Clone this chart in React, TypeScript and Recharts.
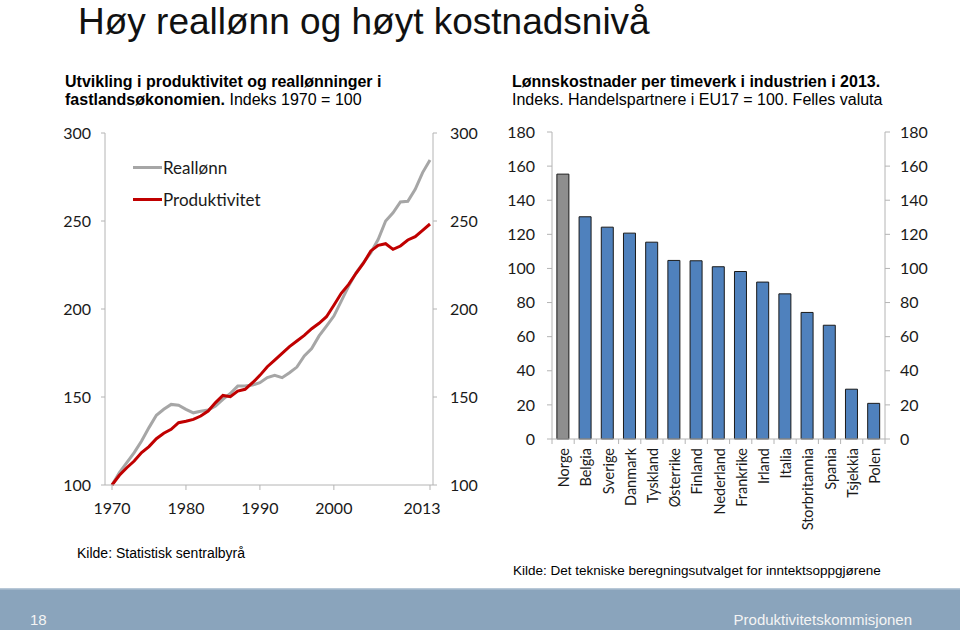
import { Bar, Cell, ComposedChart, Legend, Line, LineChart, XAxis, YAxis } from 'recharts';

const years = [
  1970, 1971, 1972, 1973, 1974, 1975, 1976, 1977, 1978, 1979, 1980, 1981, 1982, 1983, 1984,
  1985, 1986, 1987, 1988, 1989, 1990, 1991, 1992, 1993, 1994, 1995, 1996, 1997, 1998, 1999,
  2000, 2001, 2002, 2003, 2004, 2005, 2006, 2007, 2008, 2009, 2010, 2011, 2012, 2013,
];
const reallonn = [
  100, 107, 112.7, 118.4, 125, 132.6, 139.6, 143, 145.8, 145.3, 143, 141, 141.9, 142.6, 144.9,
  148.7, 152, 156.2, 156.2, 156.8, 158.1, 161, 162.3, 161, 163.8, 167, 173.3, 177.5, 184.7, 190.3,
  196, 204.5, 213, 220.6, 226.3, 232, 239.6, 250, 254.7, 260.8, 261.2, 268, 277.5, 284.7,
];
const produktivitet = [
  100, 105.5, 109.8, 113.6, 118.4, 121.8, 126.3, 129.4, 131.6, 135.4, 136.2, 137.3, 139.2, 142, 146.8,
  150.9, 150.2, 153.4, 154.4, 158.1, 162.3, 167.2, 171, 174.8, 178.6, 181.8, 185, 188.8, 191.9, 195.6,
  202.1, 208.9, 214, 220.3, 226, 233, 236.2, 237.1, 233.9, 235.8, 239.2, 241.1, 244.7, 248.3,
];
const yearTicks = [1970, 1980, 1990, 2000, 2013];
const indexTicks = [100, 150, 200, 250, 300];

const countries = [
  'Norge', 'Belgia', 'Sverige', 'Danmark', 'Tyskland', 'Østerrike', 'Finland', 'Nederland',
  'Frankrike', 'Irland', 'Italia', 'Storbritannia', 'Spania', 'Tsjekkia', 'Polen',
];
const lonnskostnader = [155.3, 130.3, 124.2, 120.7, 115.4, 104.7, 104.5, 101, 98.2, 92, 85.1, 74.2, 66.7, 29.2, 20.9];
const costTicks = [0, 20, 40, 60, 80, 100, 120, 140, 160, 180];

const lineData = years.map((year, i) => ({ year, reallonn: reallonn[i], produktivitet: produktivitet[i] }));
const barData = countries.map((name, i) => ({ name, value: lonnskostnader[i] }));

const AXIS = '#b4b4b4';
const TEXT = '#1a1a1a';
const GRAY = '#a6a6a6';
const RED = '#c00000';
const CHART_FONT = 'Lato, "Open Sans", sans-serif';
const SLIDE_FONT = '"Liberation Sans", Arial, sans-serif';

const tickStyle = { fontSize: 16, fill: TEXT, fontFamily: CHART_FONT };

function YearTick({ x, y, payload }: any) {
  const shift = payload.value === 2013 ? -8 : 0;
  return (
    <text x={x + shift} y={y} dy="0.71em" textAnchor="middle" {...tickStyle}>
      {payload.value}
    </text>
  );
}

function CountryTick({ x, y, payload, index, width, visibleTicksCount }: any) {
  const half = typeof width === 'number' && visibleTicksCount ? width / visibleTicksCount / 2 : 11.1;
  const last = index === visibleTicksCount - 1;
  return (
    <g>
      <line x1={x - half} x2={x - half} y1={y} y2={y + 5} stroke={AXIS} />
      {last && <line x1={x + half} x2={x + half} y1={y} y2={y + 5} stroke={AXIS} />}
      <text
        transform={`translate(${x + 6},${y + 9}) rotate(-90)`}
        textAnchor="end"
        fontSize={14.5}
        fill={TEXT}
        fontFamily={CHART_FONT}
      >
        {payload.value}
      </text>
    </g>
  );
}

function LineLegend() {
  const items = [
    { label: 'Reallønn', color: GRAY },
    { label: 'Produktivitet', color: RED },
  ];
  return (
    <div>
      {items.map((it) => (
        <div key={it.label} style={{ display: 'flex', alignItems: 'center', height: 31.6 }}>
          <div style={{ width: 29, height: 3, background: it.color }} />
          <span style={{ marginLeft: 1, fontSize: 17, lineHeight: 1, color: TEXT, fontFamily: CHART_FONT }}>
            {it.label}
          </span>
        </div>
      ))}
    </div>
  );
}

function ProductivityChart() {
  return (
    <LineChart width={460} height={430} data={lineData} margin={{ top: 23, right: 0, bottom: 0, left: 0 }}>
      <XAxis
        dataKey="year"
        ticks={yearTicks}
        interval={0}
        padding={{ left: 7, right: 3 }}
        height={55}
        stroke={AXIS}
        tickSize={5}
        tickMargin={13}
        tick={<YearTick />}
      />
      <YAxis
        yAxisId="left"
        domain={[100, 300]}
        ticks={indexTicks}
        width={65}
        stroke={AXIS}
        tickSize={4}
        tickMargin={10}
        tick={tickStyle}
      />
      <YAxis
        yAxisId="right"
        orientation="right"
        domain={[100, 300]}
        ticks={indexTicks}
        width={67}
        stroke={AXIS}
        tickSize={4}
        tickMargin={13}
        tick={tickStyle}
      />
      <Legend
        layout="horizontal"
        verticalAlign="middle"
        align="center"
        wrapperStyle={{ left: 93, top: 42, width: 'auto' }}
        content={<LineLegend />}
      />
      {/* mirror axis on the right: invisible series so the axis is drawn */}
      <Line
        yAxisId="right"
        dataKey="reallonn"
        stroke="none"
        dot={false}
        activeDot={false}
        legendType="none"
        isAnimationActive={false}
      />
      <Line
        yAxisId="left"
        dataKey="reallonn"
        name="Reallønn"
        stroke={GRAY}
        strokeWidth={3}
        dot={false}
        isAnimationActive={false}
      />
      <Line
        yAxisId="left"
        dataKey="produktivitet"
        name="Produktivitet"
        stroke={RED}
        strokeWidth={3}
        dot={false}
        isAnimationActive={false}
      />
    </LineChart>
  );
}

function CostChart() {
  return (
    <ComposedChart
      width={460}
      height={430}
      data={barData}
      margin={{ top: 22, right: 0, bottom: 0, left: 0 }}
      barCategoryGap="22%"
    >
      <XAxis
        dataKey="name"
        interval={0}
        height={101}
        stroke={AXIS}
        tickLine={false}
        tickSize={0}
        tickMargin={0}
        tick={<CountryTick />}
      />
      <YAxis
        yAxisId="left"
        domain={[0, 180]}
        ticks={costTicks}
        width={62}
        stroke={AXIS}
        tickSize={5}
        tickMargin={12}
        tick={tickStyle}
      />
      <YAxis
        yAxisId="right"
        orientation="right"
        domain={[0, 180]}
        ticks={costTicks}
        width={65}
        stroke={AXIS}
        tickSize={5}
        tickMargin={10}
        tick={tickStyle}
      />
      <Bar yAxisId="left" dataKey="value" stroke="#1a1a1a" strokeWidth={1} isAnimationActive={false}>
        {barData.map((d) => (
          <Cell key={d.name} fill={d.name === 'Norge' ? '#8e8e8e' : '#4f81bd'} />
        ))}
      </Bar>
      <Line
        yAxisId="right"
        dataKey="value"
        stroke="none"
        dot={false}
        activeDot={false}
        legendType="none"
        isAnimationActive={false}
      />
    </ComposedChart>
  );
}

export default function App() {
  return (
    <div
      style={{
        position: 'absolute',
        left: 0,
        top: 0,
        width: 960,
        height: 630,
        background: '#fff',
        overflow: 'hidden',
        fontFamily: CHART_FONT,
      }}
    >
      <svg width={960} height={630} style={{ position: 'absolute', left: 0, top: 0 }} fontFamily={SLIDE_FONT}>
        <text x={78} y={34} fontSize={37} fill="#111">
          Høy reallønn og høyt kostnadsnivå
        </text>
        <text x={65} y={86.7} fontSize={16} fontWeight="bold" fill="#000">
          Utvikling i produktivitet og reallønninger i
        </text>
        <text x={65} y={105} fontSize={16} fill="#000">
          <tspan fontWeight="bold">fastlandsøkonomien.</tspan> Indeks 1970 = 100
        </text>
        <text x={512} y={86.7} fontSize={16} fontWeight="bold" fill="#000">
          Lønnskostnader per timeverk i industrien i 2013.
        </text>
        <text x={512} y={105} fontSize={16} fill="#000">
          Indeks. Handelspartnere i EU17 = 100. Felles valuta
        </text>
        <text x={77} y={558} fontSize={14} fill="#000">
          Kilde: Statistisk sentralbyrå
        </text>
        <text x={513} y={575} fontSize={13.5} fill="#000">
          Kilde: Det tekniske beregningsutvalget for inntektsoppgjørene
        </text>
        <rect x={0} y={588} width={960} height={42} fill="#8aa4bc" />
        <rect x={0} y={588} width={960} height={1.5} fill="#b8c8d7" />
        <text x={30} y={625} fontSize={15} fill="#f4f4f4">
          18
        </text>
        <text x={912} y={625} fontSize={15} fill="#f4f4f4" textAnchor="end">
          Produktivitetskommisjonen
        </text>
      </svg>
      <div style={{ position: 'absolute', left: 40, top: 110 }}>
        <ProductivityChart />
      </div>
      <div style={{ position: 'absolute', left: 490, top: 110 }}>
        <CostChart />
      </div>
    </div>
  );
}
